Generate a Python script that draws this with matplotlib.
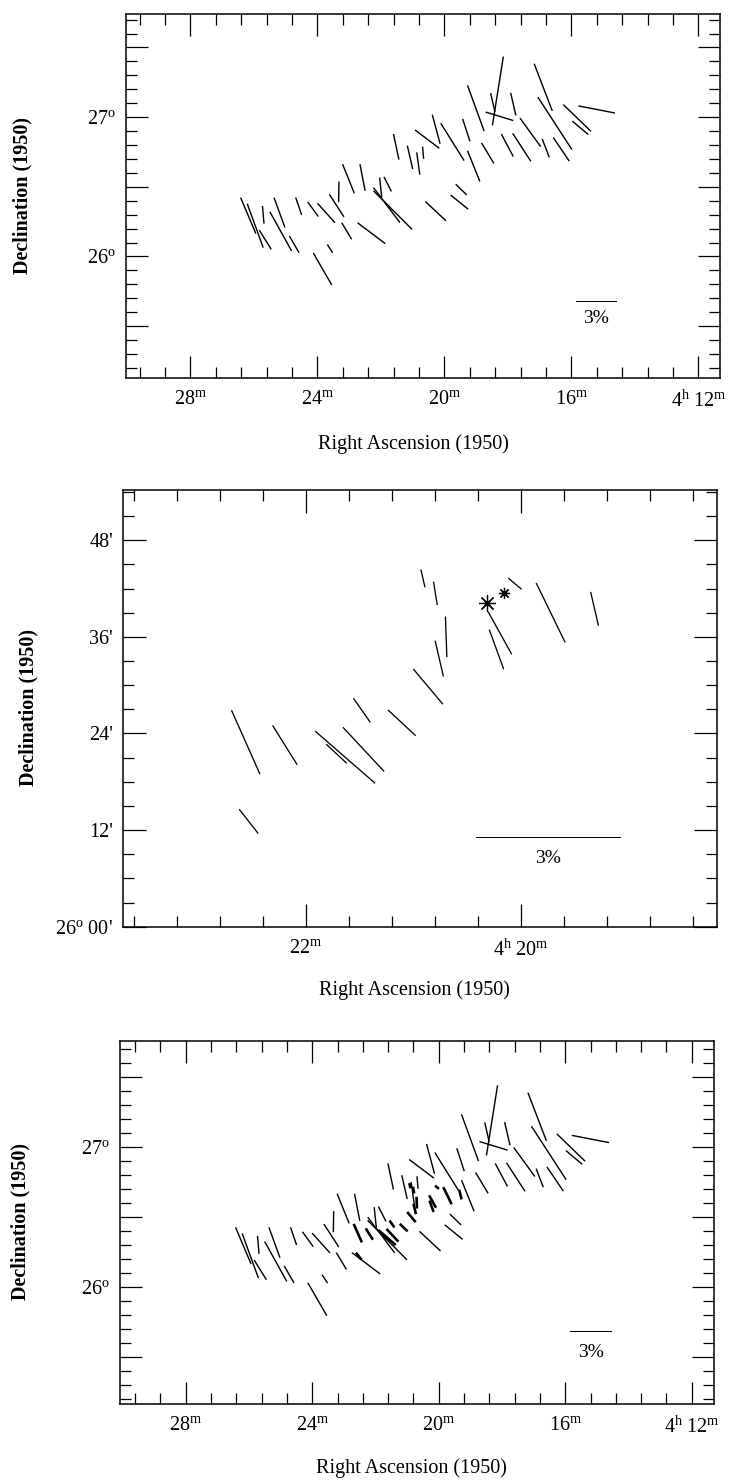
import numpy as np
import matplotlib
matplotlib.use("Agg")
import matplotlib.pyplot as plt
from matplotlib.ticker import FixedLocator, FixedFormatter, MultipleLocator

plt.rcParams['font.family'] = ['Liberation Serif', 'DejaVu Serif']
plt.rcParams['mathtext.fontset'] = 'custom'
plt.rcParams['mathtext.rm'] = 'Liberation Serif'
plt.rcParams['mathtext.it'] = 'Liberation Serif:italic'
plt.rcParams['mathtext.bf'] = 'Liberation Serif:bold'

# ---------------- data ----------------
# Wide-field polarization vectors (RA in degrees, Dec in degrees, P in %, PA in deg E of N)
wide_ra = [66.545, 66.49, 66.427, 66.411, 66.299, 66.289, 66.183, 66.148, 66.035, 65.931,
           65.849, 65.832, 65.756, 65.645, 65.77, 65.575, 65.901, 65.96, 65.455, 65.407,
           65.502, 65.447, 65.38, 65.271, 65.206, 65.168, 65.136, 65.065, 64.937, 65.069,
           64.882, 64.868, 64.753, 64.828, 64.579, 64.619, 64.567, 64.458, 64.222, 64.13,
           64.324, 63.955, 63.93, 63.801, 64.77, 64.659, 64.505, 64.391, 64.202, 64.08]
wide_dec = [26.293, 26.221, 26.299, 26.12, 26.315, 26.18, 26.087, 26.361, 26.339, 26.312,
            26.365, 26.464, 26.558, 26.567, 26.183, 26.167, 26.056, 25.91, 26.369, 26.333,
            26.495, 26.519, 26.787, 26.711, 26.667, 26.744, 26.842, 26.913, 26.822, 26.325,
            26.39, 26.48, 27.064, 26.907, 27.188, 27.104, 27.006, 27.093, 27.214, 26.955,
            26.891, 26.994, 26.923, 27.055, 26.649, 26.741, 26.798, 26.783, 26.777, 26.769]
wide_p = [2.86, 3.42, 1.29, 1.66, 2.33, 3.28, 1.41, 1.34, 1.32, 1.91,
          1.97, 1.51, 2.30, 1.98, 1.42, 2.54, 0.72, 2.71, 3.21, 3.99,
          1.47, 1.20, 1.92, 1.75, 1.65, 0.90, 2.22, 2.21, 3.23, 2.07,
          1.66, 1.12, 3.56, 1.72, 5.10, 1.42, 2.11, 1.70, 3.70, 4.58,
          2.58, 2.82, 1.52, 2.73, 2.42, 1.74, 1.87, 2.44, 1.43, 2.10]
wide_pa = [23, 20, 5, 32, 20, 29, 30, 19, 36, 42,
           33, -1, 22, 11, 31, 53, 33, 30, 37, 45,
           6, 27, 12, 13, 8, 5, 53, 15, 32, 47,
           51, 46, 20, 18, -9, 13, 73, 13, 21, 33,
           36, 46, 50, 79, 22, 31, 28, 33, 21, 34]

# Deep (zoomed) field polarization vectors
deep_ra = [65.64, 65.549, 65.409, 65.429, 65.366, 65.37, 65.277, 65.216, 65.633,
           65.228, 65.199, 65.174, 65.19, 65.014, 64.931, 64.829, 65.049, 65.057]
deep_dec = [26.382, 26.376, 26.351, 26.358, 26.367, 26.448, 26.422, 26.497, 26.218,
            26.721, 26.69, 26.6, 26.555, 26.71, 26.65, 26.658, 26.608, 26.574]
deep_p = [1.45, 0.96, 1.65, 0.58, 1.25, 0.61, 0.78, 0.95, 0.64,
          0.38, 0.49, 0.84, 0.76, 0.36, 1.37, 0.72, 1.01, 0.87]
deep_pa = [24, 32, 49, 47, 43, 35, 47, 40, 38,
           13, 9, 2, 13, 50, 26, 13, 29, 20]

# Stars marked in the deep field
star_ra = [65.079, 65.039]
star_dec = [26.67, 26.69]
star_msize = [12, 8]

scale_pct = 3

# tick definitions
wide_xmajor = [67, 66, 65, 64, 63]
wide_xlabels = [r'$\mathregular{28^{m}}$', r'$\mathregular{24^{m}}$', r'$\mathregular{20^{m}}$',
                r'$\mathregular{16^{m}}$', r'$\mathregular{4^{h}\ 12^{m}}$']
wide_ymajor = [25.5, 26.0, 26.5, 27.0, 27.5]
wide_ylabels = ['', r'$\mathregular{26^{o}}$', '', r'$\mathregular{27^{o}}$', '']

deep_xmajor = [65.5, 65.0]
deep_xlabels = [r'$\mathregular{22^{m}}$', r'$\mathregular{4^{h}\ 20^{m}}$']
deep_ymajor = [26.0, 26.2, 26.4, 26.6, 26.8]
deep_ylabels = [r"$\mathregular{26^{o}}$ 00'", "12'", "24'", "36'", "48'"]

# ---------------- figure ----------------
W, H = 735, 1480
DPI = 100
fig = plt.figure(figsize=(W / DPI, H / DPI), dpi=DPI)


def add_axes(left, top, right, bottom):
    return fig.add_axes([left / W, 1 - bottom / H, (right - left) / W, (bottom - top) / H])


def draw_vectors(ax, ra, dec, p, pa, px_per_pct, lw):
    p = np.asarray(p, float)
    ax.quiver(np.asarray(ra), np.asarray(dec), p, np.zeros_like(p),
              angles=90 + np.asarray(pa, float), pivot='middle',
              scale_units='inches', scale=DPI / px_per_pct,
              units='dots', width=lw, headwidth=0, headlength=0,
              headaxislength=0, color='black', zorder=3)


def scale_bar(ax, fx, fy, fty, px_per_pct):
    ax.quiver([fx], [fy], [scale_pct], [0], angles=[0], pivot='middle',
              transform=ax.transAxes, scale_units='inches', scale=DPI / px_per_pct,
              units='dots', width=1.1, headwidth=0, headlength=0, headaxislength=0,
              color='black')
    ax.text(fx, fty, f'{scale_pct}%', transform=ax.transAxes, ha='center',
            va='center', fontsize=14)


def style(ax, xlim, ylim, xmaj, xlab, xmin_step, ymaj, ylab, ymin_step, majlen, minlen):
    ax.set_xlim(*xlim)
    ax.set_ylim(*ylim)
    ax.xaxis.set_major_locator(FixedLocator(xmaj))
    ax.xaxis.set_major_formatter(FixedFormatter(xlab))
    ax.xaxis.set_minor_locator(MultipleLocator(xmin_step))
    ax.yaxis.set_major_locator(FixedLocator(ymaj))
    ax.yaxis.set_major_formatter(FixedFormatter(ylab))
    ax.yaxis.set_minor_locator(MultipleLocator(ymin_step))
    ax.tick_params(which='both', direction='in', top=True, right=True,
                   width=0.9, labelsize=14.5)
    ax.tick_params(axis='x', pad=9)
    ax.tick_params(axis='y', pad=7)
    ax.tick_params(which='major', length=majlen)
    ax.tick_params(which='minor', length=minlen)
    for s in ax.spines.values():
        s.set_linewidth(1.1)


# Panel 1 : wide field
ax1 = add_axes(125.7, 14, 720, 377.7)
style(ax1, (67.51, 62.83), (25.13, 27.74), wide_xmajor, wide_xlabels, 0.2,
      wide_ymajor, wide_ylabels, 0.1, 15.8, 7.9)
draw_vectors(ax1, wide_ra, wide_dec, wide_p, wide_pa, 41 / 3, 1.4)
scale_bar(ax1, 0.792, 0.209, 0.164, 41 / 3)

# Panel 2 : deep field
ax2 = add_axes(122.7, 490, 716.7, 926.7)
style(ax2, (65.926, 64.545), (26.0, 26.904), deep_xmajor, deep_xlabels, 0.1,
      deep_ymajor, deep_ylabels, 0.05, 16.5, 7.6)
draw_vectors(ax2, deep_ra, deep_dec, deep_p, deep_pa, 145 / 3, 1.3)
for r, d, s in zip(star_ra, star_dec, star_msize):
    ax2.plot(r, d, marker=(8, 2, 0), markersize=s, color='black', mew=0.9, ls='none')
    ax2.plot(r, d, marker='o', markersize=3, color='black', ls='none')
scale_bar(ax2, 0.7167, 0.2038, 0.1566, 145 / 3)

# Panel 3 : combined
ax3 = add_axes(120, 1041, 714, 1403.7)
style(ax3, (67.52, 62.824), (25.164, 27.755), wide_xmajor, wide_xlabels, 0.2,
      wide_ymajor, wide_ylabels, 0.1, 15.8, 7.9)
draw_vectors(ax3, wide_ra, wide_dec, wide_p, wide_pa, 41.8 / 3, 1.4)
draw_vectors(ax3, deep_ra, deep_dec, deep_p, deep_pa, 41.8 / 3, 2.6)
scale_bar(ax3, 0.793, 0.198, 0.14, 41.8 / 3)

# axis titles
for (xd, yd, xr, yr) in [(22, 195, 413, 444), (28, 708, 414, 990), (20, 1222, 411, 1468)]:
    fig.text(xd / W, 1 - yd / H, 'Declination (1950)', rotation=90, ha='center',
             va='center', fontsize=14.5, fontweight='bold')
    fig.text(xr / W, 1 - yr / H, 'Right Ascension (1950)', ha='center', va='center',
             fontsize=14.5)

fig.savefig('out.png', dpi=DPI)
